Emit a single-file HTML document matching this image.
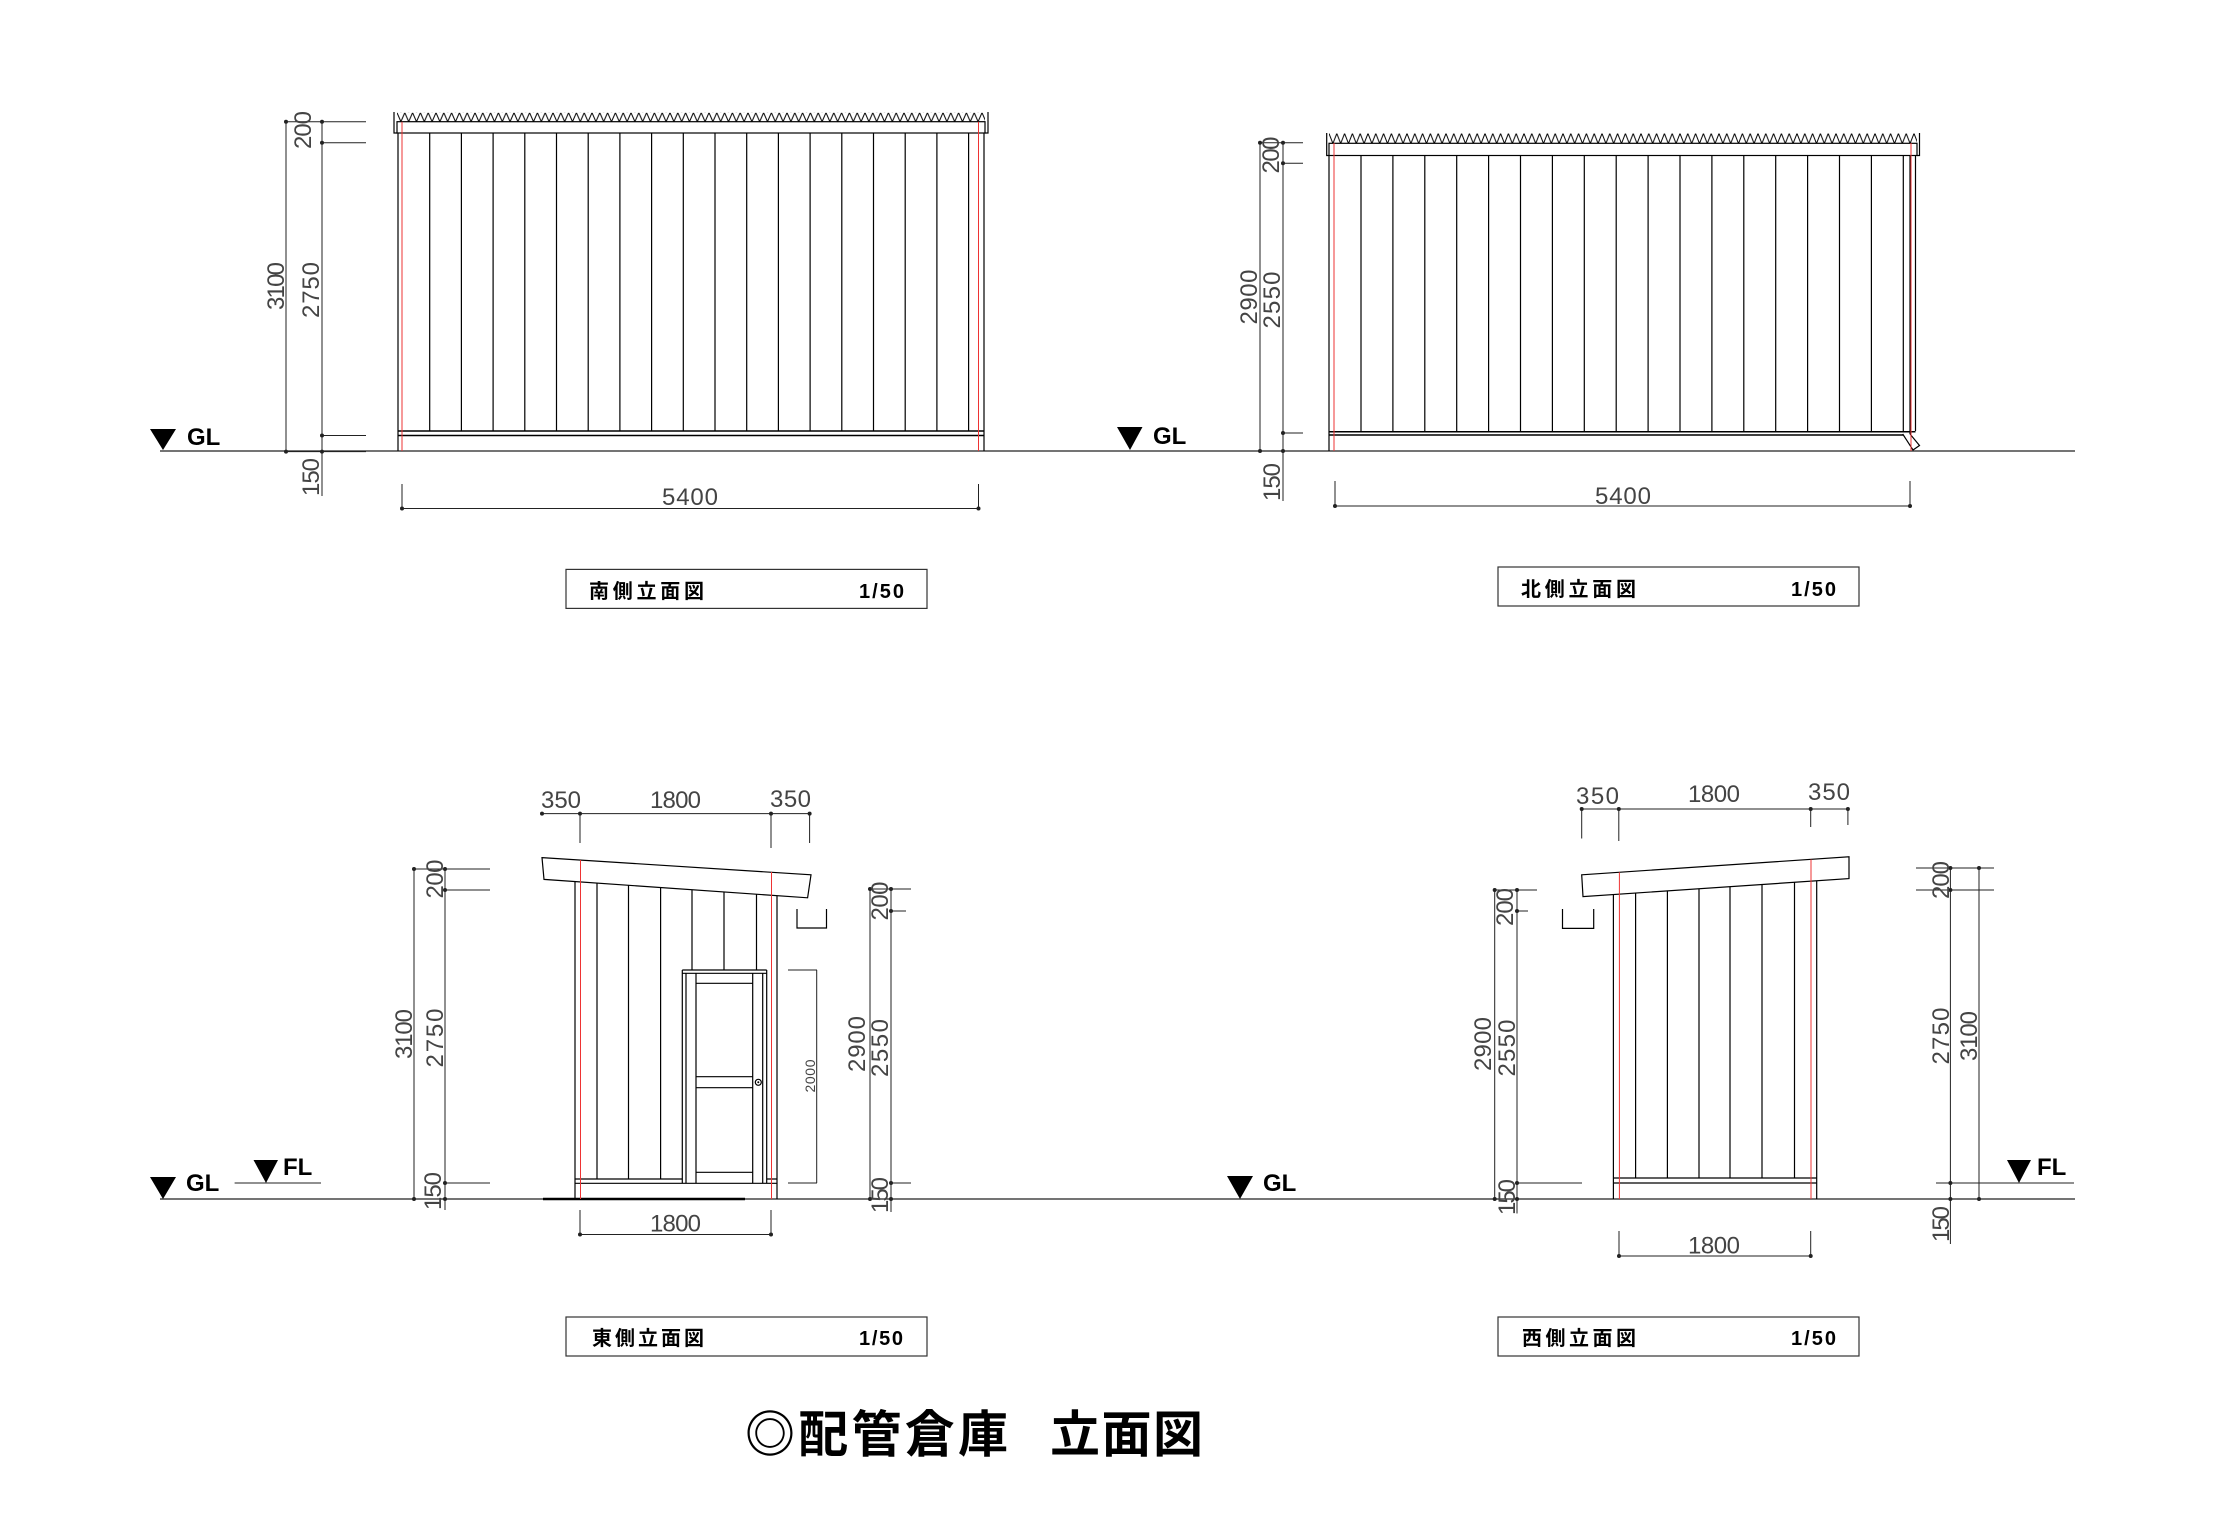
<!DOCTYPE html>
<html><head><meta charset="utf-8"><style>
html,body{margin:0;padding:0;background:#fff}
svg{display:block}
.d{font-family:"Liberation Sans",sans-serif;font-size:24px;fill:#444}
.b{font-family:"Liberation Sans",sans-serif;font-size:24px;font-weight:bold;fill:#000}
.t{font-family:"Liberation Sans","Noto Sans CJK JP",sans-serif;font-size:20px;font-weight:bold;fill:#000}
</style></head><body>
<svg width="2216" height="1538" viewBox="0 0 2216 1538" xmlns="http://www.w3.org/2000/svg">
<defs>
<pattern id="zz" x="397" y="112.7" width="7.8" height="9" patternUnits="userSpaceOnUse">
<path d="M0,0 L3.9,9 L7.8,0" fill="none" stroke="#000" stroke-width="1"/></pattern>
<pattern id="zz2" x="1329" y="133.5" width="7.8" height="10" patternUnits="userSpaceOnUse">
<path d="M0,0 L3.9,10 L7.8,0" fill="none" stroke="#000" stroke-width="1"/></pattern>
</defs>
<rect width="2216" height="1538" fill="#fff"/>

<g stroke="#222" stroke-width="1.3">
<line x1="160" y1="451" x2="2075" y2="451"/>
<line x1="160" y1="1199" x2="2075" y2="1199"/>
</g>
<line x1="543" y1="1199" x2="745" y2="1199" stroke="#000" stroke-width="2.5"/>

<!-- SOUTH -->
<rect x="397" y="112.7" width="588" height="9" fill="url(#zz)"/>
<g fill="none" stroke="#000" stroke-width="1.2">
<rect x="397" y="121.7" width="588" height="11.3"/>
<path d="M394,112 V133 H397 M988,112 V133 H985"/>
<path d="M398,133 V451 M984,133 V451"/>
<path d="M398,431 H984 M398,435.5 H984" stroke-width="1.5"/>
<path d="M429.7,133V431M461.4,133V431M493.1,133V431M524.8,133V431M556.5,133V431M588.2,133V431M619.9,133V431M651.6,133V431M683.3,133V431M715,133V431M746.7,133V431M778.4,133V431M810.1,133V431M841.8,133V431M873.5,133V431M905.2,133V431M936.9,133V431M968.6,133V431"/>
</g>
<path d="M402,121.7V451M978.5,121.7V451" stroke="#e33" stroke-width="1"/>
<g stroke="#222" stroke-width="1" fill="none">
<path d="M286,121.7V451.6 M322,121.7V496 M286,121.7H366 M322,142.7H366 M322,435.5H366 M286,451.6H366"/>
<path d="M402,508.5H978.5 M402,484V508.5 M978.5,484V508.5"/>
</g>
<g fill="#222"><circle cx="286" cy="121.7" r="2"/><circle cx="322" cy="121.7" r="2"/><circle cx="322" cy="142.7" r="2"/><circle cx="322" cy="435.5" r="2"/><circle cx="286" cy="451.6" r="2"/><circle cx="322" cy="451.6" r="2"/><circle cx="402" cy="508.5" r="2"/><circle cx="978.5" cy="508.5" r="2"/></g>
<g class="d">
<text transform="translate(303,130) rotate(-90)" text-anchor="middle" y="8" textLength="38">200</text>
<text transform="translate(276,286) rotate(-90)" text-anchor="middle" y="8" textLength="48">3100</text>
<text transform="translate(311,290) rotate(-90)" text-anchor="middle" y="8" textLength="56">2750</text>
<text transform="translate(311,477) rotate(-90)" text-anchor="middle" y="8" textLength="38">150</text>
<text x="662" y="505" textLength="56">5400</text>
</g>
<path d="M150,429H176L163,450Z" fill="#000"/>
<text class="b" x="187" y="445">GL</text>
<rect x="566" y="569.4" width="361" height="39" fill="none" stroke="#333" stroke-width="1.2"/>
<text class="t" x="589" y="598" textLength="115">南側立面図</text>
<text class="t" x="859" y="598" textLength="45">1/50</text>

<!-- NORTH -->
<rect x="1329" y="133.5" width="588" height="10" fill="url(#zz2)"/>
<g fill="none" stroke="#000" stroke-width="1.2">
<rect x="1329" y="143.3" width="588" height="12.2"/>
<path d="M1326.7,133V155.5H1329 M1919.5,133V155.5H1917"/>
<path d="M1329,155.5V451 M1915.5,155.5V431"/>
<path d="M1329,431.7H1915.5 M1329,435H1903" stroke-width="1.5"/>
<path d="M1361,155.5V431.7M1392.9,155.5V431.7M1424.8,155.5V431.7M1456.7,155.5V431.7M1488.6,155.5V431.7M1520.5,155.5V431.7M1552.4,155.5V431.7M1584.3,155.5V431.7M1616.2,155.5V431.7M1648.1,155.5V431.7M1680,155.5V431.7M1711.9,155.5V431.7M1743.8,155.5V431.7M1775.7,155.5V431.7M1807.6,155.5V431.7M1839.5,155.5V431.7M1871.4,155.5V431.7M1903.3,155.5V431.7"/>
<path d="M1910,155.5V434 M1902.7,434 L1913,450 L1919.5,445.5 L1910,434"/>
</g>
<path d="M1334,143V451M1911,143V451" stroke="#e33" stroke-width="1"/>
<g stroke="#222" stroke-width="1" fill="none">
<path d="M1260,142.7V451 M1283,142.7V501 M1260,142.7H1303 M1283,163.3H1303 M1283,433H1303 M1260,451H1303"/>
<path d="M1335,506H1910 M1335,481V506 M1910,481V506"/>
</g>
<g fill="#222"><circle cx="1260" cy="142.7" r="2"/><circle cx="1283" cy="142.7" r="2"/><circle cx="1283" cy="163.3" r="2"/><circle cx="1283" cy="433" r="2"/><circle cx="1260" cy="451" r="2"/><circle cx="1283" cy="451" r="2"/><circle cx="1335" cy="506" r="2"/><circle cx="1910" cy="506" r="2"/></g>
<g class="d">
<text transform="translate(1271,155) rotate(-90)" text-anchor="middle" y="8" textLength="37">200</text>
<text transform="translate(1249,297) rotate(-90)" text-anchor="middle" y="8" textLength="55">2900</text>
<text transform="translate(1272,300) rotate(-90)" text-anchor="middle" y="8" textLength="57">2550</text>
<text transform="translate(1272,482) rotate(-90)" text-anchor="middle" y="8" textLength="38">150</text>
<text x="1595" y="504" textLength="56">5400</text>
</g>
<path d="M1117,427H1142.5L1130,450Z" fill="#000"/>
<text class="b" x="1153" y="444">GL</text>
<rect x="1498" y="567" width="361" height="39" fill="none" stroke="#333" stroke-width="1.2"/>
<text class="t" x="1521" y="596" textLength="115">北側立面図</text>
<text class="t" x="1791" y="596" textLength="45">1/50</text>

<!-- EAST -->
<g fill="none" stroke="#000" stroke-width="1.2">
<path d="M542,857.6 L811,874.8 L807.6,897.8 L544,879.4 Z"/>
<path d="M575,881.6V1199 M777,895.7V1199"/>
<path d="M575,1179H682.3 M766.7,1179H777 M575,1183.3H777"/>
<path d="M597,883.3V1179 M628.5,885.3V1179 M660.6,887.5V1179 M692,889.7V970 M724,892V970 M756.5,894.2V970"/>
<path d="M682.3,970H766.7 M682.3,973.3H766.7 M682.3,970V1183.3 M766.7,970V1183.3"/>
<path d="M686,973.3V1183.3 M696,973.3V1183.3 M752.7,973.3V1183.3 M762.7,973.3V1183.3"/>
<path d="M696,983.3H752.7 M696,1076.7H752.7 M696,1087.7H752.7 M696,1172.3H752.7"/>
<circle cx="758.3" cy="1082.3" r="3"/>
<path d="M797,909V928H826.5V909"/>
</g>
<circle cx="758.3" cy="1082.3" r="1" fill="#000"/>
<path d="M580.5,860V1199M771.5,872V1199" stroke="#e33" stroke-width="1"/>
<g stroke="#222" stroke-width="1" fill="none">
<path d="M542,813.6H809.6 M580,813.6V843 M771,813.6V848 M809.6,813.6V843"/>
<path d="M414,869V1199 M445,869V1210 M414,869H490 M445,890H490 M445,1183H490 M414,1199H490"/>
<path d="M816.7,970V1183 M788,970H817 M788,1183H817"/>
<path d="M870,889V1199 M891,889V1212 M870,889H911 M891,911H906 M891,1183H911 M870,1199H911"/>
<path d="M580,1234.5H771 M580,1210V1234.5 M771,1210V1234.5"/>
<path d="M234.6,1183H321"/>
</g>
<g fill="#222"><circle cx="542" cy="813.6" r="2"/><circle cx="580" cy="813.6" r="2"/><circle cx="771" cy="813.6" r="2"/><circle cx="809.6" cy="813.6" r="2"/>
<circle cx="414" cy="869" r="2"/><circle cx="445" cy="869" r="2"/><circle cx="445" cy="890" r="2"/><circle cx="445" cy="1183" r="2"/><circle cx="414" cy="1199" r="2"/><circle cx="445" cy="1199" r="2"/>
<circle cx="870" cy="889" r="2"/><circle cx="891" cy="889" r="2"/><circle cx="891" cy="911" r="2"/><circle cx="891" cy="1183" r="2"/><circle cx="870" cy="1199" r="2"/><circle cx="891" cy="1199" r="2"/>
<circle cx="580" cy="1234.5" r="2"/><circle cx="771" cy="1234.5" r="2"/></g>
<g class="d">
<text x="541" y="808" textLength="40">350</text>
<text x="650" y="808" textLength="51">1800</text>
<text x="770" y="807" textLength="41">350</text>
<text x="650" y="1231.5" textLength="51">1800</text>
<text transform="translate(435,879) rotate(-90)" text-anchor="middle" y="8" textLength="39">200</text>
<text transform="translate(404,1034) rotate(-90)" text-anchor="middle" y="8" textLength="50">3100</text>
<text transform="translate(435,1038) rotate(-90)" text-anchor="middle" y="8" textLength="59">2750</text>
<text transform="translate(433,1191) rotate(-90)" text-anchor="middle" y="8" textLength="38">150</text>
<text transform="translate(810,1076) rotate(-90)" text-anchor="middle" y="5" textLength="33" style="font-size:14px">2000</text>
<text transform="translate(880,901) rotate(-90)" text-anchor="middle" y="8" textLength="39">200</text>
<text transform="translate(857,1044) rotate(-90)" text-anchor="middle" y="8" textLength="56">2900</text>
<text transform="translate(880,1048) rotate(-90)" text-anchor="middle" y="8" textLength="58">2550</text>
<text transform="translate(880,1195) rotate(-90)" text-anchor="middle" y="8" textLength="36">150</text>
</g>
<path d="M150,1177H176L163,1199Z" fill="#000"/>
<text class="b" x="186" y="1191">GL</text>
<path d="M253.5,1160H278L266,1183Z" fill="#000"/>
<text class="b" x="283" y="1175">FL</text>
<rect x="566" y="1317" width="361" height="39" fill="none" stroke="#333" stroke-width="1.2"/>
<text class="t" x="592" y="1345" textLength="112">東側立面図</text>
<text class="t" x="859" y="1345" textLength="44">1/50</text>

<!-- WEST -->
<g fill="none" stroke="#000" stroke-width="1.2">
<path d="M1581.7,874.8 L1849,856.8 L1849,878.6 L1583,896.6 Z"/>
<path d="M1613.4,894.5V1199 M1816.7,880.8V1199"/>
<path d="M1613.4,1178H1816.7 M1613.4,1183H1816.7"/>
<path d="M1635.6,893.1V1178 M1667.4,890.9V1178 M1699,888.8V1178 M1730,886.7V1178 M1762,884.5V1178 M1794.5,882.3V1178"/>
<path d="M1562.5,909V928.4H1593.7V909"/>
</g>
<path d="M1619.4,872.3V1199M1811,859.4V1199" stroke="#e33" stroke-width="1"/>
<g stroke="#222" stroke-width="1" fill="none">
<path d="M1581.7,809H1847.9 M1581.7,809V838.5 M1618.8,809V841 M1810.7,809V827 M1847.9,809V825"/>
<path d="M1494.7,890V1199 M1517,890V1213.5 M1494.7,890H1537 M1517,911H1528 M1517,1183H1582 M1494.7,1199H1582"/>
<path d="M1950.4,868V1244 M1979,868V1199 M1916,868H1994 M1916,890H1994 M1936,1183H2074 M1936,1199H2074"/>
<path d="M1619,1256H1810.7 M1619,1231V1256 M1810.7,1231V1256"/>
</g>
<g fill="#222"><circle cx="1581.7" cy="809" r="2"/><circle cx="1618.8" cy="809" r="2"/><circle cx="1810.7" cy="809" r="2"/><circle cx="1847.9" cy="809" r="2"/>
<circle cx="1494.7" cy="890" r="2"/><circle cx="1517" cy="890" r="2"/><circle cx="1517" cy="911" r="2"/><circle cx="1517" cy="1183" r="2"/><circle cx="1494.7" cy="1199" r="2"/><circle cx="1517" cy="1199" r="2"/>
<circle cx="1950.4" cy="868" r="2"/><circle cx="1979" cy="868" r="2"/><circle cx="1950.4" cy="890" r="2"/><circle cx="1950.4" cy="1183" r="2"/><circle cx="1950.4" cy="1199" r="2"/><circle cx="1979" cy="1199" r="2"/>
<circle cx="1619" cy="1256" r="2"/><circle cx="1810.7" cy="1256" r="2"/></g>
<g class="d">
<text x="1576" y="804" textLength="43">350</text>
<text x="1688" y="802" textLength="52">1800</text>
<text x="1808" y="800" textLength="42">350</text>
<text x="1688" y="1253.7" textLength="52">1800</text>
<text transform="translate(1505,907) rotate(-90)" text-anchor="middle" y="8" textLength="38">200</text>
<text transform="translate(1483,1044) rotate(-90)" text-anchor="middle" y="8" textLength="54">2900</text>
<text transform="translate(1507,1048) rotate(-90)" text-anchor="middle" y="8" textLength="57">2550</text>
<text transform="translate(1507,1197) rotate(-90)" text-anchor="middle" y="8" textLength="36">150</text>
<text transform="translate(1941,880) rotate(-90)" text-anchor="middle" y="8" textLength="38">200</text>
<text transform="translate(1941,1036) rotate(-90)" text-anchor="middle" y="8" textLength="57">2750</text>
<text transform="translate(1969,1036) rotate(-90)" text-anchor="middle" y="8" textLength="50">3100</text>
<text transform="translate(1941,1224) rotate(-90)" text-anchor="middle" y="8" textLength="36">150</text>
</g>
<path d="M1227,1176H1253L1240,1199Z" fill="#000"/>
<text class="b" x="1263" y="1191">GL</text>
<path d="M2007,1160H2031L2019,1183Z" fill="#000"/>
<text class="b" x="2037" y="1175">FL</text>
<rect x="1498" y="1317" width="361" height="39" fill="none" stroke="#333" stroke-width="1.2"/>
<text class="t" x="1522" y="1345" textLength="114">西側立面図</text>
<text class="t" x="1791" y="1345" textLength="45">1/50</text>

<text x="745" y="1452" textLength="263" style="font-family:'Liberation Sans','Noto Sans CJK JP',sans-serif;font-size:50px;font-weight:bold">◎配管倉庫</text>
<text x="1050" y="1452" textLength="153" style="font-family:'Liberation Sans','Noto Sans CJK JP',sans-serif;font-size:50px;font-weight:bold">立面図</text>
</svg>
</body></html>
